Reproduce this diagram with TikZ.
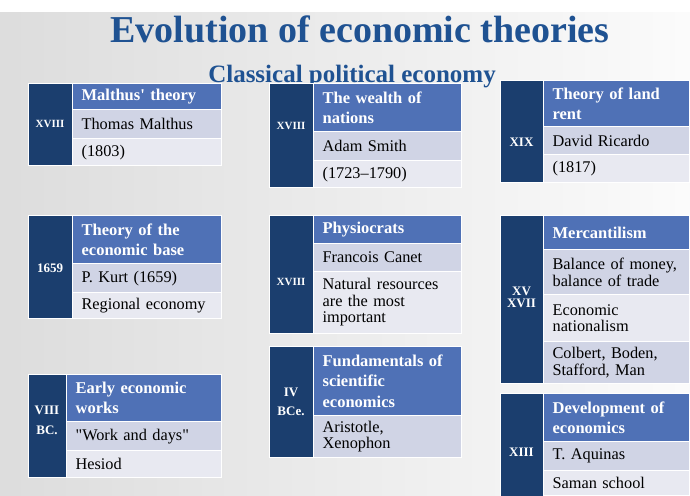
\documentclass[tikz,border=0pt]{standalone}
\usepackage{fontspec}
\setmainfont{Liberation Serif}
\usetikzlibrary{positioning}

\definecolor{navy}{RGB}{27,62,110}
\definecolor{headblue}{RGB}{79,113,182}
\definecolor{rowone}{RGB}{208,212,229}
\definecolor{rowtwo}{RGB}{232,233,241}
\definecolor{titleblue}{RGB}{31,82,146}

\begin{document}
\begin{tikzpicture}[x=1pt,y=-1pt,
    cell/.style={anchor=north west,inner xsep=9pt,inner ysep=0pt,draw=white,line width=1.2pt,align=left},
    era/.style={anchor=north west,fill=navy,draw=white,line width=1.2pt,inner sep=0pt},
    eralabel/.style={text=white,align=center,inner sep=0pt,font=\bfseries\fontsize{13}{13}\selectfont},
    head/.style={cell,fill=headblue,text=white,font=\bfseries\fontsize{16.5}{20.5}\selectfont},
    rowa/.style={cell,fill=rowone,font=\fontsize{16.3}{16.7}\selectfont},
    rowb/.style={cell,fill=rowtwo,font=\fontsize{16.3}{16.7}\selectfont}]

  \useasboundingbox (0,0) rectangle (690,495);
  \clip (0,0) rectangle (690,495);
  \fill [white] (0,0) rectangle (690,495);
  \shade [left color=gray!27,right color=gray!3] (0,13) rectangle (690,495);

  % titles
  \node [anchor=base, text=titleblue, font=\bfseries\fontsize{38}{42}\selectfont] at (360,43) (title) {Evolution of economic theories};
  \node [anchor=base, text=titleblue, font=\bfseries\fontsize{25}{28}\selectfont] at (352,82) (subtitle) {Classical political economy};

  % Malthus
  \node [era, minimum width=44pt, minimum height=82pt] at (28,83) (era_1) {};
  \node [head, text width=131pt, minimum height=26pt] at (72,83) (head_1) {Malthus\textquotesingle{} theory};
  \node [rowa, text width=131pt, minimum height=29pt] at (72,109) (row_1_1) {Thomas Malthus};
  \node [rowb, text width=131pt, minimum height=27pt] at (72,138) (row_1_2) {(1803)};
  \node [eralabel, font=\bfseries\fontsize{11}{11}\selectfont] at (50,124) (era_label_1) {XVIII};

  % Smith
  \node [era, minimum width=44pt, minimum height=104pt] at (269,83) (era_2) {};
  \node [head, text width=130pt, minimum height=48pt] at (313,83) (head_2) {The wealth of\\nations};
  \node [rowa, text width=130pt, minimum height=29pt] at (313,131) (row_2_1) {Adam Smith};
  \node [rowb, text width=130pt, minimum height=27pt] at (313,160) (row_2_2) {(1723--1790)};
  \node [eralabel, font=\bfseries\fontsize{11}{11}\selectfont] at (291,126) (era_label_2) {XVIII};

  % Ricardo
  \node [era, minimum width=43pt, minimum height=102pt] at (500,80) (era_3) {};
  \node [head, text width=128pt, minimum height=46pt] at (543,80) (head_3) {Theory of land\\rent};
  \node [rowa, text width=128pt, minimum height=28pt] at (543,126) (row_3_1) {David Ricardo};
  \node [rowb, text width=128pt, minimum height=28pt] at (543,154) (row_3_2) {(1817)};
  \node [eralabel] at (521.5,142) (era_label_3) {XIX};

  % economic base
  \node [era, minimum width=44pt, minimum height=103pt] at (28,215) (era_4) {};
  \node [head, text width=131pt, minimum height=48pt] at (72,215) (head_4) {Theory of the\\economic base};
  \node [rowa, text width=131pt, minimum height=29pt] at (72,263) (row_4_1) {P. Kurt (1659)};
  \node [rowb, text width=131pt, minimum height=26pt] at (72,292) (row_4_2) {Regional economy};
  \node [eralabel] at (50,268) (era_label_4) {1659};

  % Physiocrats
  \node [era, minimum width=44pt, minimum height=118pt] at (269,215) (era_5) {};
  \node [head, text width=130pt, minimum height=28pt] at (313,215) (head_5) {Physiocrats};
  \node [rowa, text width=130pt, minimum height=27.5pt] at (313,243) (row_5_1) {Francois Canet};
  \node [rowb, text width=130pt, minimum height=62.5pt] at (313,270.5) (row_5_2) {Natural resources\\are the most\\important};
  \node [eralabel, font=\bfseries\fontsize{11}{11}\selectfont] at (291,282) (era_label_5) {XVIII};

  % Mercantilism
  \node [era, minimum width=43pt, minimum height=168pt] at (500,215) (era_6) {};
  \node [head, text width=128pt, minimum height=34pt] at (543,215) (head_6) {Mercantilism};
  \node [rowa, text width=128pt, minimum height=45pt] at (543,249) (row_6_1) {Balance of money,\\balance of trade};
  \node [rowb, text width=128pt, minimum height=47pt] at (543,294) (row_6_2) {Economic\\nationalism};
  \node [rowa, text width=128pt, minimum height=42pt] at (543,341) (row_6_3) {Colbert, Boden,\\Stafford, Man};
  \node [eralabel] at (521.5,297) (era_label_6) {XV\\[-1pt]XVII};

  % early works
  \node [era, minimum width=38pt, minimum height=103pt] at (28,374) (era_7) {};
  \node [head, text width=137pt, minimum height=47pt] at (66,374) (head_7) {Early economic\\works};
  \node [rowa, text width=137pt, minimum height=29pt] at (66,421) (row_7_1) {\textquotedbl{}Work and days\textquotedbl};
  \node [rowb, text width=137pt, minimum height=27pt] at (66,450) (row_7_2) {Hesiod};
  \node [eralabel] at (47,420) (era_label_7) {VIII\\[7pt]BC.};

  % Aristotle
  \node [era, minimum width=44pt, minimum height=111pt] at (269,346) (era_8) {};
  \node [head, text width=130pt, minimum height=69pt] at (313,346) (head_8) {Fundamentals of\\scientific\\economics};
  \node [rowa, text width=130pt, minimum height=42pt] at (313,415) (row_8_1) {Aristotle,\\Xenophon};
  \node [eralabel] at (291,402) (era_label_8) {IV\\[6pt]BCe.};

  % Aquinas
  \node [era, minimum width=43pt, minimum height=110pt] at (500,393) (era_9) {};
  \node [head, text width=128pt, minimum height=48pt] at (543,393) (head_9) {Development of\\economics};
  \node [rowa, text width=128pt, minimum height=29pt] at (543,441) (row_9_1) {T. Aquinas};
  \node [rowb, text width=128pt, minimum height=25pt] at (543,470) (row_9_2) {Saman school};
  \node [eralabel] at (521.5,452) (era_label_9) {XIII};

\end{tikzpicture}
\end{document}
